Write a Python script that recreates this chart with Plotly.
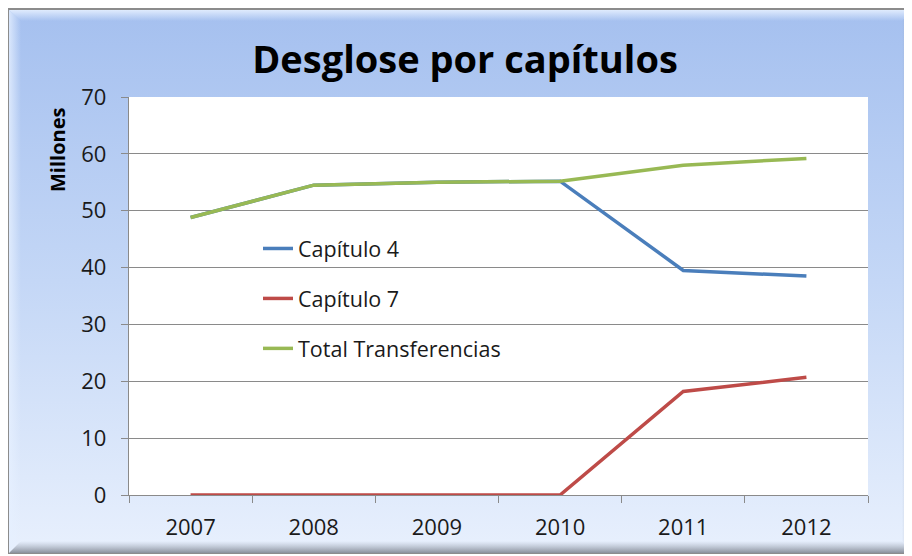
import base64
import plotly.graph_objects as go

# ---- data ----
years = ["2007", "2008", "2009", "2010", "2011", "2012"]
capitulo_4 = [48.8, 54.5, 55.0, 55.2, 39.5, 38.5]
capitulo_7 = [0.0, 0.0, 0.0, 0.0, 18.2, 20.7]
total_transferencias = [48.8, 54.5, 55.0, 55.2, 58.0, 59.2]

# page body has an 8px margin: figure occupies window x 8..912, y 8..556
OFF = 8
W, H = 912 - OFF, 556 - OFF
L, R, T, B = 129 - OFF, 44, 97 - OFF, 61
pw, ph = W - L - R, H - T - B

# ---- background frame (bevelled gradient panel), in figure coords ----
svg = f"""<svg xmlns='http://www.w3.org/2000/svg' width='{W}' height='{H}' viewBox='0 0 {W} {H}'>
<defs>
<linearGradient id='g' x1='0' y1='0' x2='0' y2='1'>
<stop offset='0' stop-color='#a5c0ef'/><stop offset='0.5' stop-color='#c4d7f6'/><stop offset='1' stop-color='#e8f0fd'/>
</linearGradient>
<linearGradient id='tb' x1='0' y1='0' x2='0' y2='1'>
<stop offset='0' stop-color='#e6f0ff' stop-opacity='0.9'/><stop offset='1' stop-color='#e6f0ff' stop-opacity='0'/>
</linearGradient>
<linearGradient id='lb' x1='0' y1='0' x2='1' y2='0'>
<stop offset='0' stop-color='#e6f0ff' stop-opacity='0.8'/><stop offset='1' stop-color='#e6f0ff' stop-opacity='0'/>
</linearGradient>
<linearGradient id='bb' x1='0' y1='1' x2='0' y2='0'>
<stop offset='0' stop-color='#7f8590' stop-opacity='0.9'/><stop offset='1' stop-color='#9aa3b3' stop-opacity='0'/>
</linearGradient>
<linearGradient id='rb' x1='1' y1='0' x2='0' y2='0'>
<stop offset='0' stop-color='#8d96a8' stop-opacity='0.7'/><stop offset='1' stop-color='#9aa3b3' stop-opacity='0'/>
</linearGradient>
</defs>
<rect x='0' y='0' width='{W}' height='{H}' fill='#ffffff'/>
<rect x='0' y='0' width='{W}' height='{H - 2}' fill='#8c8c8c'/>
<rect x='1' y='2' width='{W - 1}' height='{H - 5}' fill='url(#g)'/>
<polygon points='1,2 {W},2 {W - 10},13 13,13' fill='url(#tb)'/>
<polygon points='1,2 13,13 13,{H - 15} 1,{H - 3}' fill='url(#lb)'/>
<polygon points='1,{H - 3} 13,{H - 15} {W - 10},{H - 15} {W},{H - 3}' fill='url(#bb)'/>
<polygon points='{W},2 {W},{H - 3} {W - 10},{H - 15} {W - 10},13' fill='url(#rb)'/>
</svg>"""
bg_uri = "data:image/svg+xml;base64," + base64.b64encode(svg.encode()).decode()

grid = "#8a8a8a"
font_family = "'Open Sans', Lato, sans-serif"

fig = go.Figure()
series = [
    ("Capítulo 4", capitulo_4, "#4a7ebb"),
    ("Capítulo 7", capitulo_7, "#be4b48"),
    ("Total Transferencias", total_transferencias, "#98b954"),
]
for i, (name, vals, col) in enumerate(series):
    fig.add_trace(go.Scatter(
        x=years, y=vals, name=name, mode="lines",
        line=dict(color=col, width=3.5),
        legendgroup=f"g{i}",
    ))

fig.update_layout(
    width=W, height=H,
    margin=dict(l=L, r=R, t=T, b=B, pad=0),
    paper_bgcolor="white",
    plot_bgcolor="white",
    font=dict(family=font_family, color="#1a1a1a", size=21),
    title=dict(
        text="<b>Desglose por capítulos</b>",
        font=dict(family=font_family, size=38, color="#000000"),
        x=(465 - OFF) / W, xref="container", xanchor="center",
        y=1 - (60 - OFF) / H, yref="container", yanchor="middle",
    ),
    showlegend=True,
    legend=dict(
        x=(258 - 129) / pw, y=1 - (228 - 97) / ph,
        xanchor="left", yanchor="top",
        bgcolor="rgba(0,0,0,0)",
        font=dict(size=21.5, color="#1a1a1a"),
        tracegroupgap=19,
        traceorder="grouped",
    ),
    images=[dict(
        source=bg_uri, xref="paper", yref="paper",
        x=-L / pw, y=1 + T / ph, sizex=W / pw, sizey=H / ph,
        xanchor="left", yanchor="top", sizing="stretch", layer="below",
    )],
    shapes=[dict(
        type="rect", xref="paper", yref="paper", x0=0, x1=1, y0=0, y1=1,
        fillcolor="white", line=dict(width=0), layer="below",
    )],
    annotations=[dict(
        text="<b>Millones</b>", textangle=-90,
        xref="paper", yref="paper",
        x=(57 - 129) / pw, y=1 - (150 - 97) / ph,
        xanchor="center", yanchor="middle", showarrow=False,
        font=dict(family=font_family, size=20, color="#000000"),
    )],
)

fig.update_xaxes(
    type="category", range=[-0.5, 5.5],
    showgrid=False, showline=True, linecolor=grid, linewidth=1.3,
    ticks="outside", tickson="boundaries", ticklen=7, tickcolor=grid,
    tickfont=dict(size=22, color="#1a1a1a"),
    ticklabelstandoff=12,
    zeroline=False,
)
fig.update_yaxes(
    range=[0, 70], dtick=10, tick0=0,
    showgrid=True, gridcolor=grid, gridwidth=1.3,
    showline=True, linecolor=grid, linewidth=1.3,
    ticks="outside", ticklen=7, tickcolor=grid,
    tickfont=dict(size=22, color="#1a1a1a"),
    ticklabelstandoff=10,
    zeroline=False,
)

fig.write_html("out.html")
